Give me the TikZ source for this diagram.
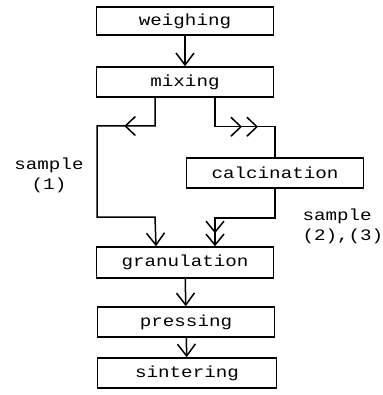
\documentclass[tikz,border=0pt]{standalone}
\usepackage{fontspec}
\newfontfamily\flowfont[FakeStretch=1.2]{Liberation Mono}
\usetikzlibrary{arrows.meta,decorations.markings}

\begin{document}
\begin{tikzpicture}[x=1pt,y=-1pt,
  every node/.style={font=\flowfont\fontsize{16}{20}\selectfont},
  stage/.style={draw,line width=1.5pt,inner sep=0pt,minimum width=177pt,minimum height=29pt},
  flow/.style={line width=1.5pt},
  barb/.style={-{Straight Barb[length=12pt,width=18pt]}},
  dbarb/.style={-{Straight Barb[length=11pt,width=18pt] Straight Barb[length=11pt,width=18pt]}},
  midbarb/.style={postaction={decorate},
    decoration={markings,mark=at position #1 with {\arrow[line width=1.5pt]{Straight Barb[length=10pt,width=19pt]}}}},
  twinbarb/.style 2 args={postaction={decorate},
    decoration={markings,
      mark=at position #1 with {\arrow[line width=1.5pt]{Straight Barb[length=10pt,width=19pt]}},
      mark=at position #2 with {\arrow[line width=1.5pt]{Straight Barb[length=10pt,width=19pt]}}}}
]
\useasboundingbox (0,0) rectangle (382,395);

% process stages
\node[stage,minimum height=28pt] (weighing)    at (185,21)  {weighing};
\node[stage,minimum height=30pt] (mixing)      at (185,82)  {mixing};
\node[stage,minimum height=30pt] (calcination) at (275,173) {calcination};
\node[stage,minimum height=31pt] (granulation) at (185,262.5) {granulation};
\node[stage,minimum height=30pt] (pressing)    at (186,322) {pressing};
\node[stage,minimum height=30pt,minimum width=179pt] (sintering) at (187,373) {sintering};

% sample labels
\node[align=center] (label1) at (49,175) {sample\\(1)};
\node[align=left,anchor=west] (label2) at (299,226) {sample\\(2),(3)};

% main line
\draw[flow,barb] (weighing) -- (mixing);

% branch for sample (1): direct to granulation
\draw[flow,midbarb=59pt,barb]
  ([xshift=-30pt]mixing.south) |- (97,126) |- ++(58,91)
  -- ([xshift=-29pt]granulation.north);

% branch for samples (2),(3): through calcination
\draw[flow,twinbarb={56pt}{72pt}]
  ([xshift=30pt]mixing.south) -- ++(0,29) -| (calcination.north);
\draw[flow,dbarb]
  (calcination.south) -- ++(0,29) -| ([xshift=30pt]granulation.north);

% lower line
\draw[flow,barb] (granulation) -- (pressing);
\draw[flow,barb] (pressing) -- (sintering);
\end{tikzpicture}
\end{document}
